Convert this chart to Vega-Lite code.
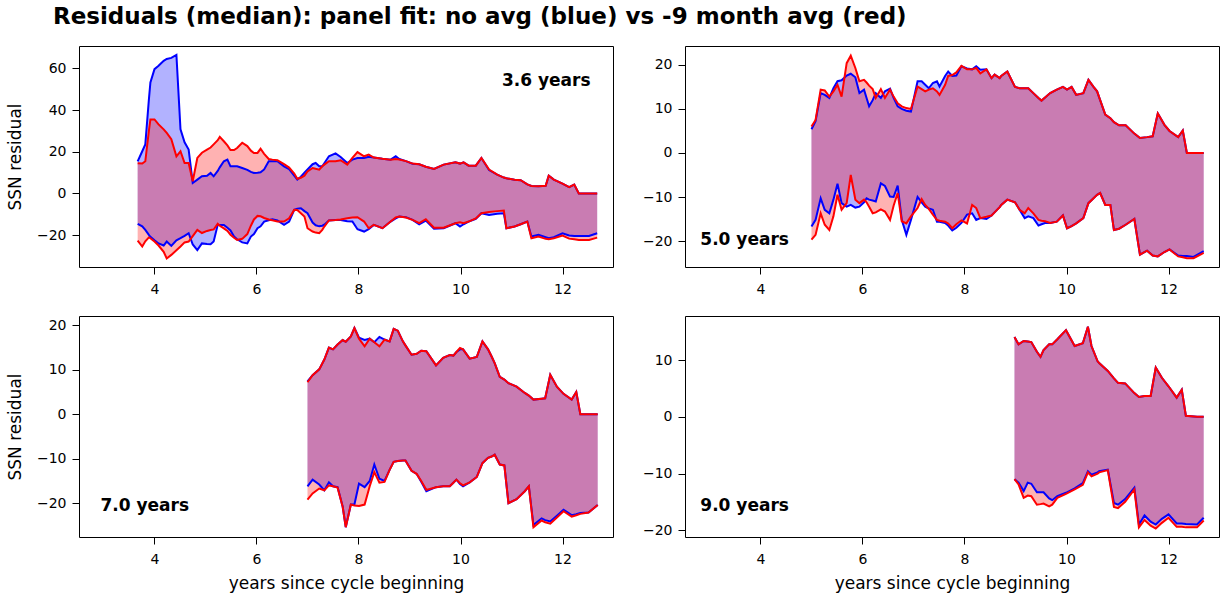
{
"$schema":"https://vega.github.io/schema/vega-lite/v6.json",
"background":"white",
"padding":{"left":5,"top":5,"right":5,"bottom":5},
"title":{"text":"Residuals (median): panel fit: no avg (blue) vs -9 month avg (red)","anchor":"start","frame":"bounds","font":"DejaVu Sans","fontSize":23,"fontWeight":"bold","color":"black","dx":47,"offset":17},
"config":{"view":{"stroke":"black","strokeWidth":1},"font":"DejaVu Sans","axis":{"grid":false,"domain":false,"tickColor":"black","tickSize":7,"tickWidth":1,"labelColor":"black","labelFont":"DejaVu Sans","labelFontSize":14,"titleFont":"DejaVu Sans","titleFontSize":17,"titleFontWeight":"normal","titleColor":"black"},"axisX":{"labelPadding":8},"axisY":{"labelPadding":6}},
"datasets":{
"p1":[
{"x":3.67,"bu":15.4,"bl":-14.6,"ru":14.5,"rl":-22.7},
{"x":3.76,"bu":20.2,"bl":-15.8,"ru":14.3,"rl":-25.5},
{"x":3.82,"bu":23.5,"bl":-17.5,"ru":15.4,"rl":-23.0},
{"x":3.89,"bu":45.0,"bl":-19.9,"ru":30.0,"rl":-21.1},
{"x":3.92,"bu":53.2,"bl":-20.8,"ru":35.5,"rl":-21.5},
{"x":4.00,"bu":59.6,"bl":-22.5,"ru":35.5,"rl":-23.1},
{"x":4.08,"bu":61.2,"bl":-24.0,"ru":33.1,"rl":-25.0},
{"x":4.18,"bu":63.6,"bl":-25.0,"ru":30.7,"rl":-28.0},
{"x":4.24,"bu":64.5,"bl":-23.1,"ru":29.0,"rl":-31.2},
{"x":4.33,"bu":65.0,"bl":-25.2,"ru":26.0,"rl":-29.5},
{"x":4.43,"bu":66.4,"bl":-22.5,"ru":17.8,"rl":-27.3},
{"x":4.51,"bu":30.7,"bl":-21.5,"ru":20.2,"rl":-25.5},
{"x":4.59,"bu":24.5,"bl":-20.4,"ru":14.6,"rl":-23.5},
{"x":4.67,"bu":21.0,"bl":-19.1,"ru":14.6,"rl":-23.1},
{"x":4.75,"bu":5.0,"bl":-24.5,"ru":5.8,"rl":-20.5},
{"x":4.84,"bu":6.6,"bl":-27.2,"ru":17.0,"rl":-17.5},
{"x":4.93,"bu":8.2,"bl":-24.0,"ru":19.5,"rl":-19.0},
{"x":5.03,"bu":8.5,"bl":-24.3,"ru":21.0,"rl":-18.0},
{"x":5.10,"bu":9.8,"bl":-24.4,"ru":22.0,"rl":-17.6},
{"x":5.16,"bu":8.2,"bl":-23.1,"ru":23.5,"rl":-17.3},
{"x":5.24,"bu":10.8,"bl":-15.1,"ru":25.5,"rl":-14.6},
{"x":5.28,"bu":12.5,"bl":-15.1,"ru":27.1,"rl":-15.5},
{"x":5.36,"bu":15.4,"bl":-15.1,"ru":25.0,"rl":-16.8},
{"x":5.43,"bu":16.2,"bl":-16.5,"ru":23.0,"rl":-18.0},
{"x":5.49,"bu":13.0,"bl":-17.8,"ru":20.8,"rl":-19.8},
{"x":5.56,"bu":13.0,"bl":-20.7,"ru":20.8,"rl":-21.3},
{"x":5.62,"bu":13.0,"bl":-22.0,"ru":21.8,"rl":-22.3},
{"x":5.72,"bu":12.2,"bl":-23.5,"ru":24.3,"rl":-21.8},
{"x":5.82,"bu":11.3,"bl":-24.0,"ru":22.7,"rl":-19.5},
{"x":5.89,"bu":10.3,"bl":-20.7,"ru":20.5,"rl":-15.5},
{"x":5.95,"bu":9.8,"bl":-19.5,"ru":19.4,"rl":-12.5},
{"x":6.02,"bu":9.9,"bl":-16.7,"ru":19.4,"rl":-10.8},
{"x":6.08,"bu":10.1,"bl":-15.8,"ru":21.4,"rl":-11.0},
{"x":6.15,"bu":11.5,"bl":-13.5,"ru":19.0,"rl":-11.8},
{"x":6.24,"bu":15.4,"bl":-12.9,"ru":16.5,"rl":-12.5},
{"x":6.31,"bu":15.4,"bl":-12.4,"ru":16.2,"rl":-12.9},
{"x":6.41,"bu":15.4,"bl":-13.0,"ru":15.9,"rl":-13.5},
{"x":6.54,"bu":13.0,"bl":-15.1,"ru":14.0,"rl":-13.5},
{"x":6.64,"bu":11.6,"bl":-13.5,"ru":12.4,"rl":-11.9},
{"x":6.74,"bu":8.5,"bl":-7.9,"ru":9.5,"rl":-7.9},
{"x":6.80,"bu":6.6,"bl":-7.3,"ru":7.0,"rl":-8.0},
{"x":6.87,"bu":8.0,"bl":-7.1,"ru":7.5,"rl":-9.5},
{"x":6.94,"bu":10.0,"bl":-8.5,"ru":8.5,"rl":-11.1},
{"x":7.00,"bu":11.5,"bl":-9.5,"ru":10.5,"rl":-16.7},
{"x":7.10,"bu":14.0,"bl":-14.0,"ru":12.2,"rl":-18.3},
{"x":7.16,"bu":14.6,"bl":-15.3,"ru":11.8,"rl":-18.8},
{"x":7.23,"bu":13.0,"bl":-15.8,"ru":11.4,"rl":-19.1},
{"x":7.29,"bu":13.0,"bl":-15.5,"ru":13.0,"rl":-17.5},
{"x":7.33,"bu":14.5,"bl":-15.0,"ru":13.8,"rl":-15.9},
{"x":7.42,"bu":17.8,"bl":-13.0,"ru":15.4,"rl":-13.0},
{"x":7.55,"bu":19.2,"bl":-12.7,"ru":15.4,"rl":-12.8},
{"x":7.65,"bu":17.5,"bl":-12.8,"ru":15.9,"rl":-12.5},
{"x":7.78,"bu":14.6,"bl":-13.3,"ru":13.8,"rl":-11.9},
{"x":7.88,"bu":16.2,"bl":-13.5,"ru":17.0,"rl":-11.6},
{"x":7.98,"bu":17.0,"bl":-17.2,"ru":19.8,"rl":-11.4},
{"x":8.11,"bu":17.0,"bl":-18.3,"ru":17.8,"rl":-13.5},
{"x":8.20,"bu":17.6,"bl":-17.2,"ru":18.6,"rl":-16.7},
{"x":8.30,"bu":17.2,"bl":-15.1,"ru":17.2,"rl":-15.1},
{"x":8.47,"bu":16.6,"bl":-16.7,"ru":16.6,"rl":-16.7},
{"x":8.63,"bu":16.2,"bl":-13.5,"ru":16.2,"rl":-13.5},
{"x":8.73,"bu":17.8,"bl":-12.0,"ru":16.5,"rl":-11.5},
{"x":8.80,"bu":16.5,"bl":-11.1,"ru":16.3,"rl":-11.1},
{"x":8.93,"bu":15.5,"bl":-11.4,"ru":15.5,"rl":-11.6},
{"x":9.06,"bu":14.2,"bl":-12.7,"ru":14.3,"rl":-12.7},
{"x":9.19,"bu":14.0,"bl":-14.8,"ru":14.0,"rl":-14.3},
{"x":9.32,"bu":12.8,"bl":-13.0,"ru":12.8,"rl":-12.4},
{"x":9.48,"bu":11.7,"bl":-17.0,"ru":11.7,"rl":-16.5},
{"x":9.67,"bu":13.8,"bl":-16.7,"ru":13.8,"rl":-16.5},
{"x":9.90,"bu":14.9,"bl":-14.3,"ru":14.9,"rl":-14.3},
{"x":9.99,"bu":14.3,"bl":-15.9,"ru":14.3,"rl":-13.9},
{"x":10.06,"bu":14.9,"bl":-14.8,"ru":14.9,"rl":-14.3},
{"x":10.16,"bu":13.3,"bl":-13.5,"ru":13.3,"rl":-13.5},
{"x":10.30,"bu":13.3,"bl":-12.2,"ru":13.3,"rl":-12.0},
{"x":10.41,"bu":17.0,"bl":-9.5,"ru":17.0,"rl":-9.5},
{"x":10.56,"bu":11.2,"bl":-10.3,"ru":11.4,"rl":-8.9},
{"x":10.72,"bu":9.0,"bl":-9.8,"ru":9.0,"rl":-8.5},
{"x":10.85,"bu":7.6,"bl":-9.5,"ru":7.6,"rl":-8.2},
{"x":10.90,"bu":7.3,"bl":-16.7,"ru":7.3,"rl":-16.7},
{"x":11.06,"bu":6.5,"bl":-15.9,"ru":6.5,"rl":-15.9},
{"x":11.18,"bu":6.3,"bl":-14.8,"ru":6.3,"rl":-14.8},
{"x":11.31,"bu":4.3,"bl":-13.5,"ru":4.3,"rl":-13.5},
{"x":11.39,"bu":3.6,"bl":-20.7,"ru":3.6,"rl":-21.5},
{"x":11.53,"bu":3.4,"bl":-19.9,"ru":3.4,"rl":-20.7},
{"x":11.67,"bu":3.7,"bl":-21.0,"ru":3.7,"rl":-21.8},
{"x":11.73,"bu":8.5,"bl":-21.5,"ru":8.5,"rl":-22.0},
{"x":11.83,"bu":6.6,"bl":-21.0,"ru":6.6,"rl":-21.5},
{"x":12.00,"bu":4.7,"bl":-19.1,"ru":4.7,"rl":-20.2},
{"x":12.13,"bu":3.0,"bl":-20.2,"ru":3.0,"rl":-21.7},
{"x":12.23,"bu":4.2,"bl":-20.4,"ru":4.2,"rl":-22.0},
{"x":12.32,"bu":0,"bl":-20.4,"ru":0,"rl":-22.3},
{"x":12.52,"bu":0,"bl":-20.4,"ru":0,"rl":-22.3},
{"x":12.68,"bu":0,"bl":-19.1,"ru":0,"rl":-21.2}
],
"p2":[
{"x":5.00,"bu":5.4,"bl":-16.7,"ru":6.0,"rl":-19.7},
{"x":5.08,"bu":7.2,"bl":-15.2,"ru":7.5,"rl":-18.6},
{"x":5.18,"bu":13.6,"bl":-10.3,"ru":14.4,"rl":-13.7},
{"x":5.26,"bu":13.2,"bl":-12.9,"ru":14.2,"rl":-16.3},
{"x":5.35,"bu":12.5,"bl":-13.7,"ru":12.8,"rl":-17.5},
{"x":5.43,"bu":14.7,"bl":-10.6,"ru":14.0,"rl":-14.4},
{"x":5.51,"bu":16.3,"bl":-7.0,"ru":15.5,"rl":-9.5},
{"x":5.59,"bu":16.5,"bl":-11.4,"ru":12.8,"rl":-12.9},
{"x":5.69,"bu":17.6,"bl":-12.2,"ru":20.4,"rl":-11.4},
{"x":5.77,"bu":18.0,"bl":-11.8,"ru":22.1,"rl":-5.0},
{"x":5.86,"bu":17.2,"bl":-12.4,"ru":19.3,"rl":-10.6},
{"x":5.94,"bu":13.6,"bl":-12.2,"ru":16.3,"rl":-11.4},
{"x":6.03,"bu":14.4,"bl":-11.2,"ru":16.6,"rl":-10.6},
{"x":6.08,"bu":12.5,"bl":-10.3,"ru":16.0,"rl":-11.2},
{"x":6.13,"bu":10.6,"bl":-10.6,"ru":15.3,"rl":-12.2},
{"x":6.20,"bu":12.0,"bl":-10.8,"ru":14.5,"rl":-13.7},
{"x":6.26,"bu":13.6,"bl":-11.0,"ru":12.5,"rl":-13.5},
{"x":6.36,"bu":12.5,"bl":-6.9,"ru":14.5,"rl":-12.8},
{"x":6.44,"bu":14.0,"bl":-7.5,"ru":12.5,"rl":-13.3},
{"x":6.54,"bu":14.6,"bl":-9.9,"ru":14.4,"rl":-15.2},
{"x":6.61,"bu":12.5,"bl":-10.0,"ru":12.8,"rl":-12.0},
{"x":6.69,"bu":10.6,"bl":-7.4,"ru":11.3,"rl":-9.1},
{"x":6.77,"bu":10.0,"bl":-15.2,"ru":10.6,"rl":-15.5},
{"x":6.86,"bu":9.6,"bl":-18.6,"ru":10.2,"rl":-16.0},
{"x":6.95,"bu":9.4,"bl":-15.2,"ru":10.0,"rl":-14.4},
{"x":7.08,"bu":16.3,"bl":-10.0,"ru":15.1,"rl":-12.5},
{"x":7.16,"bu":16.3,"bl":-11.2,"ru":14.5,"rl":-10.5},
{"x":7.23,"bu":15.5,"bl":-12.2,"ru":14.0,"rl":-11.8},
{"x":7.30,"bu":14.7,"bl":-12.6,"ru":14.4,"rl":-12.7},
{"x":7.38,"bu":15.9,"bl":-12.9,"ru":14.7,"rl":-14.0},
{"x":7.46,"bu":16.3,"bl":-15.6,"ru":14.0,"rl":-15.2},
{"x":7.51,"bu":15.1,"bl":-15.6,"ru":13.2,"rl":-15.4},
{"x":7.62,"bu":17.5,"bl":-15.9,"ru":15.5,"rl":-15.6},
{"x":7.68,"bu":18.5,"bl":-16.5,"ru":17.5,"rl":-16.0},
{"x":7.76,"bu":17.5,"bl":-17.6,"ru":17.7,"rl":-17.1},
{"x":7.84,"bu":17.6,"bl":-17.0,"ru":18.3,"rl":-16.2},
{"x":7.94,"bu":19.7,"bl":-15.9,"ru":19.8,"rl":-15.3},
{"x":8.05,"bu":19.2,"bl":-14.0,"ru":19.0,"rl":-16.0},
{"x":8.15,"bu":19.0,"bl":-13.7,"ru":19.0,"rl":-11.8},
{"x":8.23,"bu":19.7,"bl":-15.2,"ru":19.3,"rl":-12.5},
{"x":8.31,"bu":18.9,"bl":-14.8,"ru":18.1,"rl":-14.8},
{"x":8.43,"bu":19.0,"bl":-15.0,"ru":19.0,"rl":-14.5},
{"x":8.53,"bu":17.0,"bl":-14.2,"ru":17.0,"rl":-14.2},
{"x":8.59,"bu":17.8,"bl":-13.5,"ru":17.8,"rl":-13.5},
{"x":8.69,"bu":17.0,"bl":-12.3,"ru":17.0,"rl":-12.3},
{"x":8.72,"bu":17.5,"bl":-11.8,"ru":17.5,"rl":-11.8},
{"x":8.84,"bu":18.5,"bl":-10.6,"ru":18.5,"rl":-10.6},
{"x":8.99,"bu":15.0,"bl":-11.2,"ru":15.0,"rl":-11.2},
{"x":9.08,"bu":14.7,"bl":-12.9,"ru":14.7,"rl":-12.9},
{"x":9.18,"bu":14.7,"bl":-14.8,"ru":14.7,"rl":-13.7},
{"x":9.25,"bu":14.7,"bl":-14.4,"ru":14.7,"rl":-12.5},
{"x":9.35,"bu":13.6,"bl":-14.8,"ru":13.6,"rl":-13.7},
{"x":9.45,"bu":12.5,"bl":-16.5,"ru":12.5,"rl":-15.2},
{"x":9.51,"bu":11.9,"bl":-16.2,"ru":11.9,"rl":-15.4},
{"x":9.58,"bu":12.6,"bl":-15.9,"ru":12.6,"rl":-15.5},
{"x":9.68,"bu":13.6,"bl":-15.9,"ru":13.6,"rl":-15.9},
{"x":9.81,"bu":14.4,"bl":-15.6,"ru":14.4,"rl":-15.6},
{"x":9.93,"bu":15.0,"bl":-14.2,"ru":15.0,"rl":-14.2},
{"x":10.01,"bu":14.4,"bl":-17.1,"ru":14.4,"rl":-17.1},
{"x":10.10,"bu":15.0,"bl":-16.6,"ru":15.0,"rl":-16.6},
{"x":10.19,"bu":13.2,"bl":-16.0,"ru":13.2,"rl":-16.0},
{"x":10.33,"bu":13.6,"bl":-14.8,"ru":13.6,"rl":-14.8},
{"x":10.43,"bu":16.6,"bl":-11.4,"ru":16.6,"rl":-11.4},
{"x":10.53,"bu":15.0,"bl":-10.3,"ru":15.0,"rl":-10.3},
{"x":10.60,"bu":14.0,"bl":-9.5,"ru":14.0,"rl":-9.5},
{"x":10.66,"bu":12.0,"bl":-9.1,"ru":12.0,"rl":-9.1},
{"x":10.76,"bu":8.7,"bl":-11.8,"ru":8.7,"rl":-11.8},
{"x":10.86,"bu":7.9,"bl":-11.8,"ru":7.9,"rl":-11.8},
{"x":10.93,"bu":7.0,"bl":-17.5,"ru":7.0,"rl":-17.5},
{"x":11.03,"bu":6.3,"bl":-17.2,"ru":6.3,"rl":-17.2},
{"x":11.16,"bu":6.3,"bl":-16.3,"ru":6.3,"rl":-16.3},
{"x":11.33,"bu":4.4,"bl":-15.0,"ru":4.4,"rl":-15.0},
{"x":11.44,"bu":3.4,"bl":-23.1,"ru":3.4,"rl":-23.1},
{"x":11.58,"bu":3.6,"bl":-22.2,"ru":3.6,"rl":-22.2},
{"x":11.69,"bu":3.8,"bl":-23.3,"ru":3.8,"rl":-23.3},
{"x":11.79,"bu":9.0,"bl":-23.5,"ru":9.0,"rl":-23.5},
{"x":11.92,"bu":6.4,"bl":-22.5,"ru":6.4,"rl":-22.5},
{"x":12.02,"bu":5.0,"bl":-21.9,"ru":5.0,"rl":-21.9},
{"x":12.19,"bu":3.6,"bl":-23.3,"ru":3.6,"rl":-23.5},
{"x":12.28,"bu":5.1,"bl":-23.4,"ru":5.1,"rl":-23.7},
{"x":12.36,"bu":0,"bl":-23.4,"ru":0,"rl":-23.9},
{"x":12.49,"bu":0,"bl":-23.6,"ru":0,"rl":-23.9},
{"x":12.69,"bu":0,"bl":-22.3,"ru":0,"rl":-22.7}
],
"p3":[
{"x":7.00,"bu":7.4,"bl":-16.2,"ru":7.2,"rl":-19.2},
{"x":7.10,"bu":8.8,"bl":-14.7,"ru":8.8,"rl":-17.8},
{"x":7.23,"bu":10.1,"bl":-15.8,"ru":10.1,"rl":-16.7},
{"x":7.33,"bu":12.3,"bl":-17.1,"ru":12.3,"rl":-17.1},
{"x":7.42,"bu":15.0,"bl":-15.3,"ru":15.0,"rl":-16.0},
{"x":7.50,"bu":14.6,"bl":-16.2,"ru":14.6,"rl":-16.2},
{"x":7.59,"bu":15.7,"bl":-16.4,"ru":15.7,"rl":-16.5},
{"x":7.69,"bu":16.7,"bl":-20.8,"ru":16.7,"rl":-20.8},
{"x":7.75,"bu":16.3,"bl":-25.4,"ru":16.3,"rl":-25.4},
{"x":7.85,"bu":17.5,"bl":-20.3,"ru":17.5,"rl":-20.3},
{"x":7.92,"bu":19.4,"bl":-20.3,"ru":19.4,"rl":-20.5},
{"x":8.01,"bu":17.2,"bl":-15.6,"ru":17.0,"rl":-20.6},
{"x":8.12,"bu":16.7,"bl":-16.4,"ru":15.3,"rl":-20.3},
{"x":8.22,"bu":17.0,"bl":-15.0,"ru":17.0,"rl":-16.2},
{"x":8.31,"bu":16.2,"bl":-11.3,"ru":16.2,"rl":-13.0},
{"x":8.41,"bu":17.4,"bl":-14.5,"ru":15.3,"rl":-15.4},
{"x":8.51,"bu":16.8,"bl":-15.0,"ru":16.8,"rl":-15.2},
{"x":8.61,"bu":16.4,"bl":-12.5,"ru":16.4,"rl":-12.5},
{"x":8.69,"bu":19.2,"bl":-10.7,"ru":19.2,"rl":-10.7},
{"x":8.77,"bu":18.8,"bl":-10.5,"ru":18.8,"rl":-10.5},
{"x":8.87,"bu":16.4,"bl":-10.4,"ru":16.4,"rl":-10.4},
{"x":8.92,"bu":15.5,"bl":-10.4,"ru":15.5,"rl":-10.4},
{"x":9.04,"bu":13.4,"bl":-12.7,"ru":13.4,"rl":-12.7},
{"x":9.14,"bu":13.6,"bl":-13.4,"ru":13.6,"rl":-13.4},
{"x":9.23,"bu":14.3,"bl":-15.2,"ru":14.3,"rl":-15.0},
{"x":9.33,"bu":14.2,"bl":-17.3,"ru":14.2,"rl":-17.0},
{"x":9.52,"bu":11.0,"bl":-16.4,"ru":11.0,"rl":-16.4},
{"x":9.66,"bu":12.7,"bl":-16.2,"ru":12.7,"rl":-16.2},
{"x":9.79,"bu":13.3,"bl":-16.2,"ru":13.3,"rl":-16.2},
{"x":9.86,"bu":13.2,"bl":-15.4,"ru":13.2,"rl":-15.4},
{"x":9.92,"bu":14.0,"bl":-14.7,"ru":14.0,"rl":-14.7},
{"x":9.99,"bu":14.6,"bl":-15.7,"ru":14.9,"rl":-15.5},
{"x":10.05,"bu":14.6,"bl":-16.2,"ru":14.6,"rl":-16.0},
{"x":10.18,"bu":12.5,"bl":-15.3,"ru":12.5,"rl":-15.3},
{"x":10.32,"bu":12.9,"bl":-14.1,"ru":12.9,"rl":-14.1},
{"x":10.43,"bu":16.4,"bl":-11.0,"ru":16.4,"rl":-11.0},
{"x":10.54,"bu":14.6,"bl":-9.8,"ru":14.6,"rl":-9.8},
{"x":10.61,"bu":13.0,"bl":-9.5,"ru":13.0,"rl":-9.5},
{"x":10.67,"bu":11.5,"bl":-9.1,"ru":11.5,"rl":-9.1},
{"x":10.77,"bu":8.4,"bl":-11.3,"ru":8.4,"rl":-11.3},
{"x":10.86,"bu":7.8,"bl":-11.5,"ru":7.8,"rl":-11.5},
{"x":10.94,"bu":7.0,"bl":-20.0,"ru":7.0,"rl":-20.0},
{"x":11.10,"bu":6.2,"bl":-19.1,"ru":6.2,"rl":-19.1},
{"x":11.26,"bu":4.8,"bl":-17.3,"ru":4.8,"rl":-17.3},
{"x":11.34,"bu":4.2,"bl":-16.2,"ru":4.2,"rl":-16.2},
{"x":11.43,"bu":3.3,"bl":-24.9,"ru":3.3,"rl":-25.4},
{"x":11.59,"bu":3.5,"bl":-23.4,"ru":3.5,"rl":-23.9},
{"x":11.66,"bu":3.6,"bl":-23.8,"ru":3.6,"rl":-24.3},
{"x":11.76,"bu":8.9,"bl":-24.1,"ru":8.9,"rl":-24.6},
{"x":11.89,"bu":6.2,"bl":-22.8,"ru":6.2,"rl":-23.2},
{"x":12.02,"bu":4.6,"bl":-21.5,"ru":4.6,"rl":-21.8},
{"x":12.18,"bu":3.3,"bl":-22.7,"ru":3.3,"rl":-23.0},
{"x":12.27,"bu":5.0,"bl":-22.5,"ru":5.0,"rl":-22.7},
{"x":12.35,"bu":0,"bl":-22.2,"ru":0,"rl":-22.4},
{"x":12.51,"bu":0,"bl":-22.1,"ru":0,"rl":-22.1},
{"x":12.69,"bu":0,"bl":-20.4,"ru":0,"rl":-20.4}
],
"p4":[
{"x":8.98,"bu":14.1,"bl":-11.0,"ru":14.1,"rl":-11.0},
{"x":9.06,"bu":12.8,"bl":-11.6,"ru":12.8,"rl":-11.9},
{"x":9.16,"bu":13.4,"bl":-13.1,"ru":13.4,"rl":-14.3},
{"x":9.24,"bu":13.3,"bl":-11.6,"ru":13.3,"rl":-13.9},
{"x":9.31,"bu":13.2,"bl":-11.8,"ru":13.2,"rl":-14.0},
{"x":9.42,"bu":11.5,"bl":-13.3,"ru":11.5,"rl":-15.5},
{"x":9.49,"bu":10.6,"bl":-13.3,"ru":10.6,"rl":-15.4},
{"x":9.55,"bu":11.8,"bl":-13.3,"ru":11.8,"rl":-15.3},
{"x":9.66,"bu":12.8,"bl":-14.4,"ru":12.8,"rl":-15.8},
{"x":9.72,"bu":12.8,"bl":-14.7,"ru":12.8,"rl":-15.5},
{"x":9.82,"bu":13.7,"bl":-14.0,"ru":13.7,"rl":-14.3},
{"x":9.99,"bu":15.3,"bl":-13.4,"ru":15.3,"rl":-13.6},
{"x":10.16,"bu":12.5,"bl":-12.6,"ru":12.5,"rl":-12.8},
{"x":10.32,"bu":13.0,"bl":-11.7,"ru":13.0,"rl":-12.0},
{"x":10.42,"bu":15.9,"bl":-9.6,"ru":15.9,"rl":-9.8},
{"x":10.49,"bu":12.5,"bl":-10.2,"ru":12.5,"rl":-10.5},
{"x":10.61,"bu":9.8,"bl":-9.8,"ru":9.8,"rl":-10.0},
{"x":10.64,"bu":9.5,"bl":-9.6,"ru":9.5,"rl":-9.8},
{"x":10.81,"bu":8.1,"bl":-9.3,"ru":8.1,"rl":-9.4},
{"x":10.93,"bu":6.8,"bl":-15.2,"ru":6.8,"rl":-15.9},
{"x":11.01,"bu":6.0,"bl":-15.5,"ru":6.0,"rl":-16.1},
{"x":11.15,"bu":5.9,"bl":-14.5,"ru":5.9,"rl":-15.0},
{"x":11.33,"bu":4.2,"bl":-12.5,"ru":4.2,"rl":-12.8},
{"x":11.42,"bu":3.5,"bl":-19.0,"ru":3.5,"rl":-19.5},
{"x":11.53,"bu":3.7,"bl":-17.4,"ru":3.7,"rl":-18.2},
{"x":11.65,"bu":3.7,"bl":-18.5,"ru":3.7,"rl":-19.2},
{"x":11.75,"bu":8.7,"bl":-19.0,"ru":8.7,"rl":-19.7},
{"x":11.87,"bu":6.9,"bl":-18.0,"ru":6.9,"rl":-18.7},
{"x":12.00,"bu":5.4,"bl":-17.2,"ru":5.4,"rl":-17.8},
{"x":12.16,"bu":3.4,"bl":-18.8,"ru":3.4,"rl":-19.4},
{"x":12.26,"bu":4.8,"bl":-18.8,"ru":4.8,"rl":-19.4},
{"x":12.34,"bu":0.2,"bl":-18.9,"ru":0.2,"rl":-19.5},
{"x":12.56,"bu":0,"bl":-19.0,"ru":0,"rl":-19.5},
{"x":12.69,"bu":0,"bl":-17.8,"ru":0,"rl":-18.3}
]
},
"columns":2,
"bounds":"flush",
"spacing":{"row":49,"column":72},
"concat":[
{"width":534,"height":221,"data":{"name":"p1"},
"encoding":{"x":{"field":"x","type":"quantitative","scale":{"domain":[2.52,12.99],"nice":false,"zero":false},"axis":{"values":[4,6,8,10,12],"title":null}}},
"layer":[
{"mark":{"type":"area","color":"#0000ff","opacity":0.3},"encoding":{"y":{"field":"bu","type":"quantitative","stack":null,"scale":{"domain":[-35.3,70.7],"nice":false,"zero":false},"axis":{"values":[-20,0,20,40,60],"title":"SSN residual","titlePadding":12}},"y2":{"field":"bl"}}},
{"mark":{"type":"area","color":"#ff0000","opacity":0.3},"encoding":{"y":{"field":"ru","type":"quantitative","stack":null},"y2":{"field":"rl"}}},
{"mark":{"type":"line","color":"#0000ff","strokeWidth":2},"encoding":{"y":{"field":"bu","type":"quantitative"}}},
{"mark":{"type":"line","color":"#0000ff","strokeWidth":2},"encoding":{"y":{"field":"bl","type":"quantitative"}}},
{"mark":{"type":"line","color":"#ff0000","strokeWidth":2},"encoding":{"y":{"field":"ru","type":"quantitative"}}},
{"mark":{"type":"line","color":"#ff0000","strokeWidth":2},"encoding":{"y":{"field":"rl","type":"quantitative"}}},
{"data":{"values":[{"x":12.55,"y":54,"t":"3.6 years"}]},"mark":{"type":"text","fontWeight":"bold","fontSize":17,"align":"right","baseline":"middle","color":"black"},"encoding":{"y":{"field":"y","type":"quantitative"},"text":{"field":"t"}}}
]},
{"width":534,"height":221,"data":{"name":"p2"},
"encoding":{"x":{"field":"x","type":"quantitative","scale":{"domain":[2.52,12.99],"nice":false,"zero":false},"axis":{"values":[4,6,8,10,12],"title":null}}},
"layer":[
{"mark":{"type":"area","color":"#0000ff","opacity":0.3},"encoding":{"y":{"field":"bu","type":"quantitative","stack":null,"scale":{"domain":[-25.9,24.3],"nice":false,"zero":false},"axis":{"values":[-20,-10,0,10,20],"title":null}},"y2":{"field":"bl"}}},
{"mark":{"type":"area","color":"#ff0000","opacity":0.3},"encoding":{"y":{"field":"ru","type":"quantitative","stack":null},"y2":{"field":"rl"}}},
{"mark":{"type":"line","color":"#0000ff","strokeWidth":2},"encoding":{"y":{"field":"bu","type":"quantitative"}}},
{"mark":{"type":"line","color":"#0000ff","strokeWidth":2},"encoding":{"y":{"field":"bl","type":"quantitative"}}},
{"mark":{"type":"line","color":"#ff0000","strokeWidth":2},"encoding":{"y":{"field":"ru","type":"quantitative"}}},
{"mark":{"type":"line","color":"#ff0000","strokeWidth":2},"encoding":{"y":{"field":"rl","type":"quantitative"}}},
{"data":{"values":[{"x":2.82,"y":-19.7,"t":"5.0 years"}]},"mark":{"type":"text","fontWeight":"bold","fontSize":17,"align":"left","baseline":"middle","color":"black"},"encoding":{"y":{"field":"y","type":"quantitative"},"text":{"field":"t"}}}
]},
{"width":534,"height":221,"data":{"name":"p3"},
"encoding":{"x":{"field":"x","type":"quantitative","scale":{"domain":[2.52,12.99],"nice":false,"zero":false},"axis":{"values":[4,6,8,10,12],"title":"years since cycle beginning","titlePadding":9}}},
"layer":[
{"mark":{"type":"area","color":"#0000ff","opacity":0.3},"encoding":{"y":{"field":"bu","type":"quantitative","stack":null,"scale":{"domain":[-27.6,22.1],"nice":false,"zero":false},"axis":{"values":[-20,-10,0,10,20],"title":"SSN residual","titlePadding":12}},"y2":{"field":"bl"}}},
{"mark":{"type":"area","color":"#ff0000","opacity":0.3},"encoding":{"y":{"field":"ru","type":"quantitative","stack":null},"y2":{"field":"rl"}}},
{"mark":{"type":"line","color":"#0000ff","strokeWidth":2},"encoding":{"y":{"field":"bu","type":"quantitative"}}},
{"mark":{"type":"line","color":"#0000ff","strokeWidth":2},"encoding":{"y":{"field":"bl","type":"quantitative"}}},
{"mark":{"type":"line","color":"#ff0000","strokeWidth":2},"encoding":{"y":{"field":"ru","type":"quantitative"}}},
{"mark":{"type":"line","color":"#ff0000","strokeWidth":2},"encoding":{"y":{"field":"rl","type":"quantitative"}}},
{"data":{"values":[{"x":2.94,"y":-20.7,"t":"7.0 years"}]},"mark":{"type":"text","fontWeight":"bold","fontSize":17,"align":"left","baseline":"middle","color":"black"},"encoding":{"y":{"field":"y","type":"quantitative"},"text":{"field":"t"}}}
]},
{"width":534,"height":221,"data":{"name":"p4"},
"encoding":{"x":{"field":"x","type":"quantitative","scale":{"domain":[2.52,12.99],"nice":false,"zero":false},"axis":{"values":[4,6,8,10,12],"title":"years since cycle beginning","titlePadding":9}}},
"layer":[
{"mark":{"type":"area","color":"#0000ff","opacity":0.3},"encoding":{"y":{"field":"bu","type":"quantitative","stack":null,"scale":{"domain":[-21.2,17.8],"nice":false,"zero":false},"axis":{"values":[-20,-10,0,10],"title":null}},"y2":{"field":"bl"}}},
{"mark":{"type":"area","color":"#ff0000","opacity":0.3},"encoding":{"y":{"field":"ru","type":"quantitative","stack":null},"y2":{"field":"rl"}}},
{"mark":{"type":"line","color":"#0000ff","strokeWidth":2},"encoding":{"y":{"field":"bu","type":"quantitative"}}},
{"mark":{"type":"line","color":"#0000ff","strokeWidth":2},"encoding":{"y":{"field":"bl","type":"quantitative"}}},
{"mark":{"type":"line","color":"#ff0000","strokeWidth":2},"encoding":{"y":{"field":"ru","type":"quantitative"}}},
{"mark":{"type":"line","color":"#ff0000","strokeWidth":2},"encoding":{"y":{"field":"rl","type":"quantitative"}}},
{"data":{"values":[{"x":2.82,"y":-15.8,"t":"9.0 years"}]},"mark":{"type":"text","fontWeight":"bold","fontSize":17,"align":"left","baseline":"middle","color":"black"},"encoding":{"y":{"field":"y","type":"quantitative"},"text":{"field":"t"}}}
]}
]
}
